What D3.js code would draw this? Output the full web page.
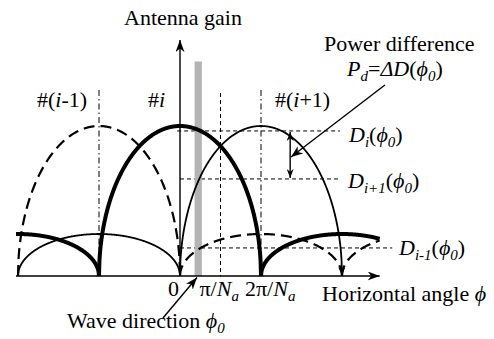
<!DOCTYPE html>
<html>
<head>
<meta charset="utf-8">
<script src="https://cdn.jsdelivr.net/npm/d3@7"></script>
<style>
  html, body { margin: 0; padding: 0; background: #fff; }
  svg { display: block; }
  text { font-family: "Liberation Serif", "Times New Roman", "DejaVu Serif", serif; font-size: 22px; fill: #000; }
</style>
</head>
<body>
<script>
// ---------------- data (angle in units of π/N_a, gain normalised to main-lobe peak) ----------------
const beamNames   = ["#(i-1)", "#i", "#(i+1)"];
const beamCenters = [-2, 0, 2];
const beamStyles  = ["dashed", "thick", "thin"];

// individual lobes: owning beam, lobe centre, peak gain, drawn span
const lobeBeam   = [0,    0,    0,    1,    1,     1,    2,    2];
const lobeCenter = [-2,   2,    6,    0,   -4,     4,    2,   -2];
const lobeGain   = [1,    0.28, 0.28, 1,    0.28,  0.28, 1,    0.28];
const lobeFrom   = [-4,   0,    4,   -2,   -4.05,  2,    0,   -4];
const lobeTo     = [0,    4,    4.93, 2,   -2,     4.93, 4,    0];
const lobeHalfWidth = 2;

const phi0 = 0.45;                 // wave direction
const levelNames  = ["i", "i+1", "i-1"];
const levelValues = [0.967, 0.647, 0.187];   // D_i(φ0), D_{i+1}(φ0), D_{i-1}(φ0)
const levelEnds   = [3.95, 3.92, 5.24];

const tickValues = [0, 1, 2];
const tickLabels = ["0", "π/N_a", "2π/N_a"];

const PHI = "\u03D5";

// ---------------- scales ----------------
const W = 494, H = 339;
const x = d3.scaleLinear().domain([-4, 4]).range([18, 342]);
const y = d3.scaleLinear().domain([0, 1]).range([276, 126]);

const svg = d3.select("body").append("svg").attr("width", W).attr("height", H);

const defs = svg.append("defs");
function marker(id, w, l) {
  defs.append("marker").attr("id", id)
    .attr("viewBox", `${-l} ${-w} ${l + 1} ${2 * w}`)
    .attr("refX", 0).attr("refY", 0)
    .attr("markerWidth", l + 1).attr("markerHeight", 2 * w)
    .attr("markerUnits", "userSpaceOnUse")
    .attr("orient", "auto-start-reverse")
    .append("path")
    .attr("d", `M0,0 L${-l},${-w} L${-l * 0.7},0 L${-l},${w} Z`)
    .attr("fill", "#000");
}
marker("arr", 4.5, 12);
marker("arrS", 3.5, 9);

// ---------------- guide lines ----------------
svg.selectAll("line.bc").data([beamCenters[0], beamCenters[2]]).join("line")
  .attr("x1", d => x(d)).attr("x2", d => x(d))
  .attr("y1", y(1.24)).attr("y2", y(0))
  .attr("stroke", "#000").attr("stroke-width", 1)
  .attr("stroke-dasharray", "6,3,1.5,3");

svg.append("line")
  .attr("x1", x(1)).attr("x2", x(1)).attr("y1", y(1.22)).attr("y2", y(0))
  .attr("stroke", "#000").attr("stroke-width", 1).attr("stroke-dasharray", "4,3");

svg.selectAll("line.lv").data(levelValues).join("line")
  .attr("x1", (d, i) => i === 0 ? x(-0.07) : x(0)).attr("x2", (d, i) => x(levelEnds[i]))
  .attr("y1", d => y(d)).attr("y2", d => y(d))
  .attr("stroke", "#000").attr("stroke-width", 1).attr("stroke-dasharray", "4,3");

svg.append("rect")
  .attr("x", x(phi0 - 0.09)).attr("width", x(phi0 + 0.09) - x(phi0 - 0.09))
  .attr("y", y(1.43)).attr("height", y(0) - y(1.43))
  .attr("fill", "#b4b4b4");

// ---------------- axes ----------------
svg.append("line")
  .attr("x1", x(-4.05)).attr("x2", x(4.93)).attr("y1", y(0)).attr("y2", y(0))
  .attr("stroke", "#000").attr("stroke-width", 1.6).attr("marker-end", "url(#arr)");
svg.append("line")
  .attr("x1", x(0)).attr("x2", x(0)).attr("y1", y(0)).attr("y2", y(1.573))
  .attr("stroke", "#000").attr("stroke-width", 1.4).attr("marker-end", "url(#arr)");

// ---------------- lobes ----------------
const line = d3.line().x(d => x(d[0])).y(d => y(d[1]));
const styleOf = {
  thick:  { w: 4,   dash: null },
  thin:   { w: 1.8, dash: null },
  dashed: { w: 2.2, dash: "11,6" }
};
const lobes = lobeBeam.map((b, i) => {
  const c = lobeCenter[i], g = lobeGain[i];
  const pts = d3.range(lobeFrom[i], lobeTo[i], 0.01).concat([lobeTo[i]]).map(t => {
    const u = (t - c) / lobeHalfWidth;
    return [t, g * Math.sqrt(Math.max(0, 1 - u * u))];
  });
  return { beam: b, pts, i };
});
svg.selectAll("path.lobe").data(lobes).join("path")
  .attr("d", d => line(d.pts))
  .attr("fill", "none").attr("stroke", "#000")
  .attr("stroke-width", d => styleOf[beamStyles[d.beam]].w)
  .attr("stroke-dasharray", d => styleOf[beamStyles[d.beam]].dash)
  .attr("marker-end", d => (d.beam === 2 && lobeGain[d.i] === 1) ? "url(#arrS)" : null);

// ---------------- annotation arrows ----------------
svg.append("line")
  .attr("x1", x(5.06)).attr("y1", y(1.273)).attr("x2", x(2.74)).attr("y2", y(0.793))
  .attr("stroke", "#000").attr("stroke-width", 1.4).attr("marker-end", "url(#arr)");
svg.append("line")
  .attr("x1", x(2.72)).attr("x2", x(2.72)).attr("y1", y(levelValues[0]) + 1).attr("y2", y(levelValues[1]) - 1)
  .attr("stroke", "#000").attr("stroke-width", 1.4)
  .attr("marker-start", "url(#arrS)").attr("marker-end", "url(#arrS)");
svg.append("line")
  .attr("x1", x(-0.42)).attr("y1", y(-0.28)).attr("x2", x(0.42)).attr("y2", y(-0.01))
  .attr("stroke", "#000").attr("stroke-width", 1.4).attr("marker-end", "url(#arr)");

// ---------------- text ----------------
function rich(px, py, parts, anchor) {
  const t = svg.append("text").attr("x", px).attr("y", py).attr("text-anchor", anchor || "start");
  let shift = 0;
  parts.forEach(p => {
    const [s, f] = p;
    const ts = t.append("tspan").text(s);
    if (f && f.includes("i")) ts.attr("font-style", "italic");
    const want = (f && f.includes("s")) ? 5 : 0;
    if (want !== shift) { ts.attr("dy", want - shift); shift = want; }
    if (f && f.includes("s")) ts.attr("font-size", "15px");
  });
  return t;
}

rich(124, 25, [["Antenna gain"]]);
rich(322, 301, [["Horizontal angle "], [PHI, "i"]]);
rich(67, 328, [["Wave direction "], [PHI, "i"], ["0", "is"]]);

rich(37, 107, [["#("], ["i", "i"], ["-1)"]]);
rich(148, 107, [["#"], ["i", "i"]]);
rich(275, 107, [["#("], ["i", "i"], ["+1)"]]);

rich(324, 51, [["Power difference"]]);
rich(347, 76, [["P", "i"], ["d", "is"], ["="], ["ΔD", "i"], ["("], [PHI, "i"], ["0", "is"], [")"]]);

const levelLabelPos = [[349, 142], [348, 188], [399, 255]];
levelNames.forEach((n, k) => {
  rich(levelLabelPos[k][0], levelLabelPos[k][1],
    [["D", "i"], [n, "is"], ["("], [PHI, "i"], ["0", "is"], [")"]]);
});

rich(x(tickValues[0]) - 1, 296, [[tickLabels[0]]], "end");
rich(x(tickValues[1]) - 21, 296, [["π/"], ["N", "i"], ["a", "is"]]);
rich(x(tickValues[2]) - 16, 296, [["2π/"], ["N", "i"], ["a", "is"]]);
</script>
</body>
</html>
